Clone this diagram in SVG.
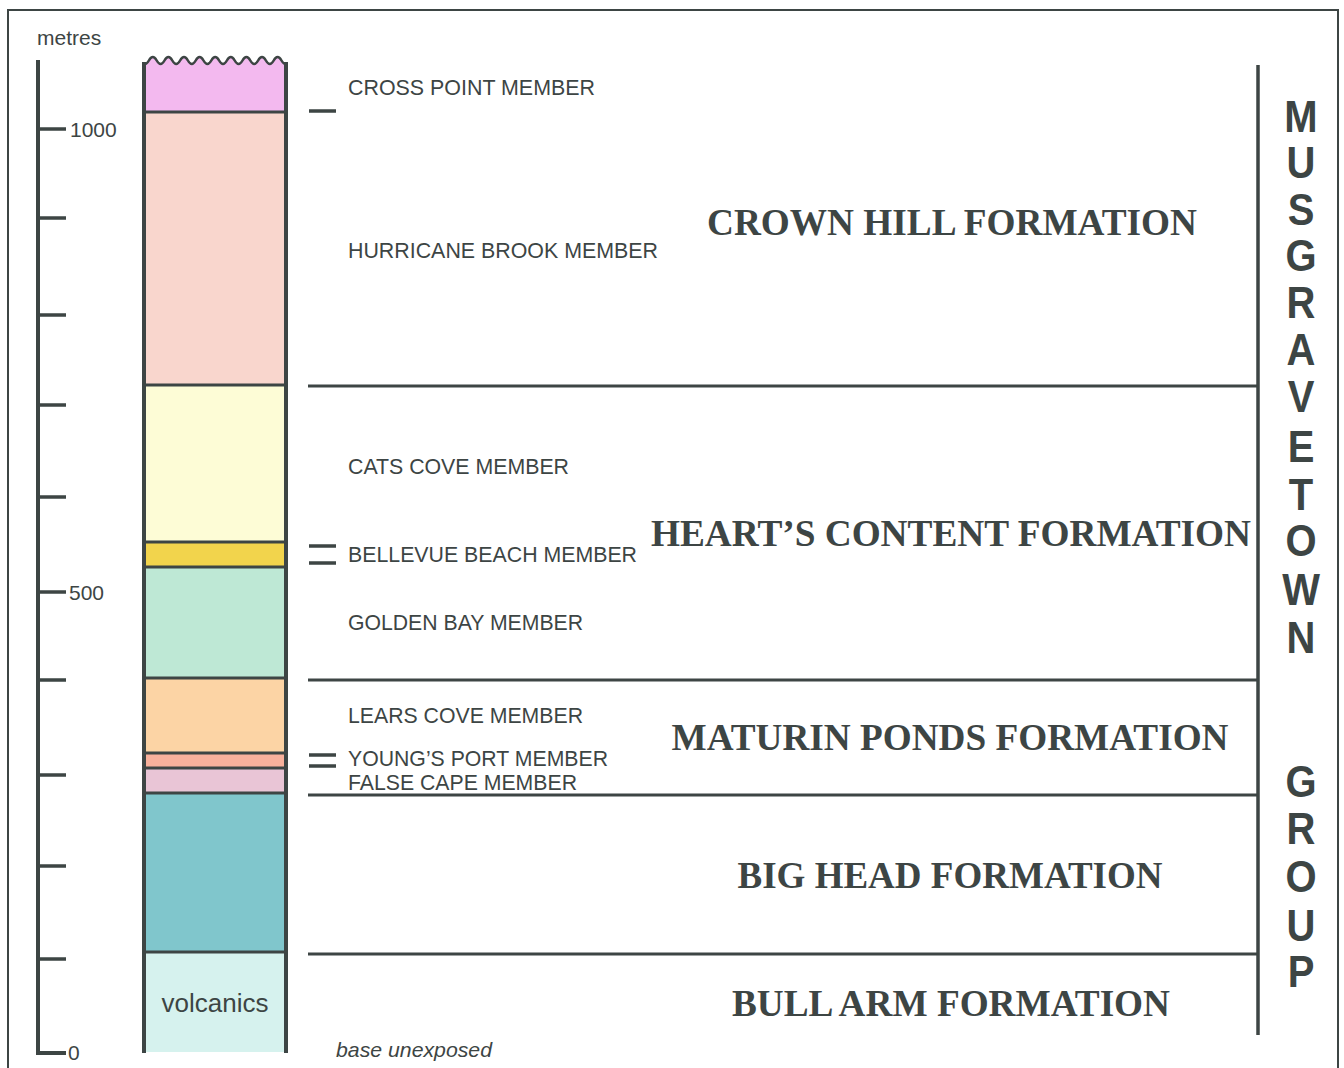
<svg xmlns="http://www.w3.org/2000/svg" width="1344" height="1068" viewBox="0 0 1344 1068">
<style>
.ln{stroke:#3d4544;fill:none}
.mem{font-family:"Liberation Sans",Arial,sans-serif;font-size:22px;fill:#3d4544}
.fm{font-family:"Liberation Serif","Times New Roman",serif;font-weight:bold;font-size:37px;fill:#3d4544;text-anchor:middle}
.grp{font-family:"Liberation Sans",Arial,sans-serif;font-weight:bold;font-size:40px;fill:#3d4544;text-anchor:middle}
.sc{font-family:"Liberation Sans",Arial,sans-serif;font-size:21px;fill:#3d4544}
</style>
<defs>
<path id="wave" d="M145 64 c3.9 0 3.9 -7 7.8 -7 c3.9 0 3.9 7 7.8 7 c3.9 0 3.9 -7 7.8 -7 c3.9 0 3.9 7 7.8 7 c3.9 0 3.9 -7 7.8 -7 c3.9 0 3.9 7 7.8 7 c3.9 0 3.9 -7 7.8 -7 c3.9 0 3.9 7 7.8 7 c3.9 0 3.9 -7 7.8 -7 c3.9 0 3.9 7 7.8 7 c3.9 0 3.9 -7 7.8 -7 c3.9 0 3.9 7 7.8 7 c3.9 0 3.9 -7 7.8 -7 c3.9 0 3.9 7 7.8 7 c3.9 0 3.9 -7 7.8 -7 c3.9 0 3.9 7 7.8 7 c3.9 0 3.9 -7 7.8 -7 c3.9 0 3.9 7 7.8 7"/>
</defs>
<rect width="1344" height="1068" fill="#ffffff"/>
<g id="frame">
<path class="ln" d="M8 1068 V10 H1338 V1068" stroke-width="2" stroke="#555"/>
</g>
<g id="scale">
<text class="sc" x="37" y="45">metres</text>
<path class="ln" d="M38 60 V1053 H66" stroke-width="4"/>
<path class="ln" stroke-width="3.5" d="M38 129 H66 M38 218 H66 M38 315 H66 M38 405 H66 M38 497 H66 M38 592 H66 M38 680 H66 M38 775 H66 M38 866 H66 M38 959 H66"/>
<text class="sc" x="70" y="137">1000</text>
<text class="sc" x="69" y="600">500</text>
<text class="sc" x="68" y="1060">0</text>
</g>
<g id="column">
<path d="M145 112 V64 c3.9 0 3.9 -7 7.8 -7 c3.9 0 3.9 7 7.8 7 c3.9 0 3.9 -7 7.8 -7 c3.9 0 3.9 7 7.8 7 c3.9 0 3.9 -7 7.8 -7 c3.9 0 3.9 7 7.8 7 c3.9 0 3.9 -7 7.8 -7 c3.9 0 3.9 7 7.8 7 c3.9 0 3.9 -7 7.8 -7 c3.9 0 3.9 7 7.8 7 c3.9 0 3.9 -7 7.8 -7 c3.9 0 3.9 7 7.8 7 c3.9 0 3.9 -7 7.8 -7 c3.9 0 3.9 7 7.8 7 c3.9 0 3.9 -7 7.8 -7 c3.9 0 3.9 7 7.8 7 c3.9 0 3.9 -7 7.8 -7 c3.9 0 3.9 7 7.8 7 V112 Z" fill="#f3b9ef"/>
<rect x="145" y="112" width="141" height="273" fill="#f9d6cd"/>
<rect x="145" y="385" width="141" height="157" fill="#fdfcd6"/>
<rect x="145" y="542" width="141" height="25" fill="#f2d44c"/>
<rect x="145" y="567" width="141" height="111" fill="#bee8d5"/>
<rect x="145" y="678" width="141" height="75" fill="#fcd4a5"/>
<rect x="145" y="753" width="141" height="15" fill="#f8b19c"/>
<rect x="145" y="768" width="141" height="25" fill="#e9c5d6"/>
<rect x="145" y="793" width="141" height="159" fill="#80c6cc"/>
<rect x="145" y="952" width="141" height="100" fill="#d6f2ee"/>
<use href="#wave" class="ln" stroke-width="2.5"/>
<path class="ln" stroke-width="4" d="M144 62 V1053 M286 62 V1053"/>
<path class="ln" stroke-width="3" d="M145 112 H286 M145 385 H286 M145 542 H286 M145 567 H286 M145 678 H286 M145 753 H286 M145 768 H286 M145 793 H286 M145 952 H286"/>
<text x="215" y="1012" font-family="Liberation Sans, Arial, sans-serif" font-size="26" fill="#3d4544" text-anchor="middle">volcanics</text>
</g>
<g id="connectors">
<path class="ln" stroke-width="3" d="M308 386 H1258 M308 680 H1258 M308 795 H1258 M308 954 H1258"/>
<path class="ln" stroke-width="3.5" d="M1258 65 V1035"/>
<path class="ln" stroke-width="3.5" d="M309 111 H336 M309 546 H336 M309 563 H336 M309 755 H336 M309 766 H336"/>
</g>
<g id="members">
<text class="mem" x="348" y="95" textLength="247" lengthAdjust="spacingAndGlyphs">CROSS POINT MEMBER</text>
<text class="mem" x="348" y="258" textLength="310" lengthAdjust="spacingAndGlyphs">HURRICANE BROOK MEMBER</text>
<text class="mem" x="348" y="474" textLength="221" lengthAdjust="spacingAndGlyphs">CATS COVE MEMBER</text>
<text class="mem" x="348" y="562" textLength="289" lengthAdjust="spacingAndGlyphs">BELLEVUE BEACH MEMBER</text>
<text class="mem" x="348" y="630" textLength="235" lengthAdjust="spacingAndGlyphs">GOLDEN BAY MEMBER</text>
<text class="mem" x="348" y="723" textLength="235" lengthAdjust="spacingAndGlyphs">LEARS COVE MEMBER</text>
<text class="mem" x="348" y="766" font-size="18" textLength="260" lengthAdjust="spacingAndGlyphs">YOUNG’S PORT MEMBER</text>
<text class="mem" x="348" y="790" font-size="18" textLength="229" lengthAdjust="spacingAndGlyphs">FALSE CAPE MEMBER</text>
<text x="336" y="1057" font-family="Liberation Sans, Arial, sans-serif" font-size="21" font-style="italic" fill="#3d4544" textLength="156" lengthAdjust="spacingAndGlyphs">base unexposed</text>
</g>
<g id="formations">
<text class="fm" x="952" y="235" textLength="490" lengthAdjust="spacingAndGlyphs">CROWN HILL FORMATION</text>
<text class="fm" x="951" y="546" textLength="600" lengthAdjust="spacingAndGlyphs">HEART’S CONTENT FORMATION</text>
<text class="fm" x="950" y="750" textLength="557" lengthAdjust="spacingAndGlyphs">MATURIN PONDS FORMATION</text>
<text class="fm" x="950" y="888" textLength="425" lengthAdjust="spacingAndGlyphs">BIG HEAD FORMATION</text>
<text class="fm" x="951" y="1016" textLength="438" lengthAdjust="spacingAndGlyphs">BULL ARM FORMATION</text>
</g>
<g id="group-label" transform="translate(1301 0) scale(1 1.12)">
<text class="grp" x="0" y="117.9">M</text>
<text class="grp" x="0" y="159">U</text>
<text class="grp" x="0" y="200.9">S</text>
<text class="grp" x="0" y="242">G</text>
<text class="grp" x="0" y="283.9">R</text>
<text class="grp" x="0" y="325.9">A</text>
<text class="grp" x="0" y="367.9">V</text>
<text class="grp" x="0" y="412.5">E</text>
<text class="grp" x="0" y="455.4">T</text>
<text class="grp" x="0" y="496.4">O</text>
<text class="grp" x="0" y="540.2">W</text>
<text class="grp" x="0" y="583">N</text>
<text class="grp" x="0" y="711.6">G</text>
<text class="grp" x="0" y="754">R</text>
<text class="grp" x="0" y="796.4">O</text>
<text class="grp" x="0" y="840.6">U</text>
<text class="grp" x="0" y="881.3">P</text>
</g>
</svg>
